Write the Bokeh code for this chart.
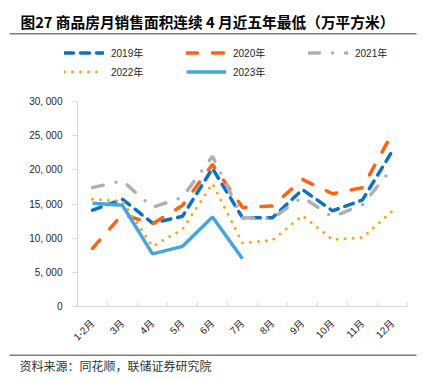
import math
import numpy as np
from bokeh.plotting import figure
from bokeh.layouts import column
from bokeh.models import (Range1d, FixedTicker, Legend, LegendItem, Label, BoxAnnotation, ColumnDataSource)
from bokeh.embed import file_html
from bokeh.resources import INLINE

# ---- data ----
months = ["1-2月", "3月", "4月", "5月", "6月", "7月", "8月", "9月", "10月", "11月", "12月"]
y2019 = [14100, 15700, 12200, 13200, 20200, 13000, 13000, 17100, 14000, 15600, 22800]
y2020 = [8500, 13500, 12100, 14800, 20800, 14500, 14700, 18600, 16500, 17400, 25400]
y2021 = [17400, 18400, 14500, 16000, 22000, 13000, 12900, 16000, 13100, 14900, 20300]
y2022 = [15700, 15400, 8800, 11300, 18000, 9300, 9700, 13300, 9800, 10100, 14000]
y2023 = [15100, 14800, 7700, 8800, 13100, 7000]
y_ticks = [0, 5000, 10000, 15000, 20000, 25000, 30000]
y_tick_labels = ["0", "5, 000", "10, 000", "15, 000", "20, 000", "25, 000", "30, 000"]
series_names = ["2019年", "2020年", "2021年", "2022年", "2023年"]
title_text = "图27 商品房月销售面积连续 4 月近五年最低（万平方米）"
source_text = "资料来源：同花顺，联储证券研究院"

FONT = "Liberation Sans, Noto Sans CJK SC"
CJK = "Noto Sans CJK SC"
RULE = "#7F7F7F"
W = 432

styles = [
    dict(line_color="#0B72C8", line_width=3.5, line_dash="9 7", line_cap="round"),
    dict(line_color="#FF6210", line_width=3.5, line_dash="11 15", line_cap="round"),
    dict(line_color="#B0B0B0", line_width=3.5, line_dash="11 13 0 13", line_cap="round"),
    dict(line_color="#FFA411", line_width=3, line_dash="0 8", line_cap="round"),
    dict(line_color="#45A6DF", line_width=3.5),
]

def blank_fig(h):
    f = figure(width=W, height=h, x_range=Range1d(0, W), y_range=Range1d(h, 0),
               min_border=0, output_backend="svg", toolbar_location=None, tools="",
               x_axis_location=None, y_axis_location=None, frame_align=False)
    f.grid.visible = False
    f.outline_line_color = None
    f.background_fill_color = "white"
    f.border_fill_color = "white"
    return f

# ---- top: title, rule, legend ----
TOP_H = 85
top = blank_fig(TOP_H)
top.add_layout(Label(x=20, y=20.7, text=title_text, text_font=CJK, text_font_size="14.7px",
                     text_font_style="bold", text_color="#000000", text_baseline="middle"))
top.add_layout(BoxAnnotation(left=9, right=416, top=32.6, bottom=34.0,
                             fill_color=RULE, fill_alpha=1, line_color=None))
# legend keys, styled like the chart's series (they hold no points of their own)
key_src = ColumnDataSource(dict(x=np.array([np.nan]), y=np.array([np.nan])))
keys = [top.line("x", "y", source=key_src, **s) for s in styles]
legend = Legend(items=[LegendItem(label=n, renderers=[r]) for n, r in zip(series_names, keys)],
                orientation="horizontal", ncols=3,
                location=(64, 3.8), padding=0, margin=0, spacing=0,
                glyph_width=40, glyph_height=19, label_height=19, label_width=75,
                label_standoff=7, label_text_font=FONT, label_text_font_size="10px",
                label_text_color="#262626", background_fill_alpha=0, border_line_alpha=0)
top.add_layout(legend)

# ---- main chart ----
xs = [i + 0.5 for i in range(len(months))]

p = figure(width=W, height=261, frame_width=330, frame_height=205,
           min_border_left=77, min_border_right=25, min_border_top=16, min_border_bottom=40,
           x_range=Range1d(0, len(months)), y_range=Range1d(0, 30000), frame_align=False,
           output_backend="svg", toolbar_location=None, tools="")
p.outline_line_color = None
p.grid.visible = False
p.background_fill_color = "white"
p.border_fill_color = "white"

def src(vals):
    return ColumnDataSource(dict(x=xs[:len(vals)], y=vals))

for vals, s in zip([y2019, y2020, y2021, y2022, y2023], styles):
    p.line("x", "y", source=src(vals), **s)

xa = p.xaxis[0]
xa.ticker = FixedTicker(ticks=xs, minor_ticks=list(range(1, len(months) + 1)))
xa.major_label_overrides = {x: m for x, m in zip(xs, months)}
xa.major_label_orientation = math.pi / 4
xa.major_tick_in = 0
xa.major_tick_out = 0
xa.minor_tick_in = 4
xa.minor_tick_out = 0
xa.minor_tick_line_color = "#D9D9D9"
xa.axis_line_color = "#D9D9D9"
xa.major_label_text_font = FONT
xa.major_label_text_font_size = "10px"
xa.major_label_text_color = "#262626"
xa.major_label_standoff = 15

ya = p.yaxis[0]
ya.ticker = FixedTicker(ticks=y_ticks)
ya.major_label_overrides = {t: l for t, l in zip(y_ticks, y_tick_labels)}
ya.major_tick_in = 0
ya.major_tick_out = 5
ya.minor_tick_line_color = None
ya.major_tick_line_color = "#D9D9D9"
ya.axis_line_color = "#D9D9D9"
ya.major_label_text_font = FONT
ya.major_label_text_font_size = "10px"
ya.major_label_text_color = "#262626"
ya.major_label_standoff = 10

# ---- bottom: rule + source ----
BOT_H = 35
bottom = blank_fig(BOT_H)
bottom.add_layout(BoxAnnotation(left=9, right=416, top=5.0, bottom=6.4,
                                fill_color=RULE, fill_alpha=1, line_color=None))
bottom.add_layout(Label(x=19, y=16, text=source_text, text_font=CJK, text_font_size="12px",
                        text_color="#333333", text_baseline="middle"))

layout = column(top, p, bottom, spacing=0)
open("out.html", "w").write(file_html(layout, INLINE))
